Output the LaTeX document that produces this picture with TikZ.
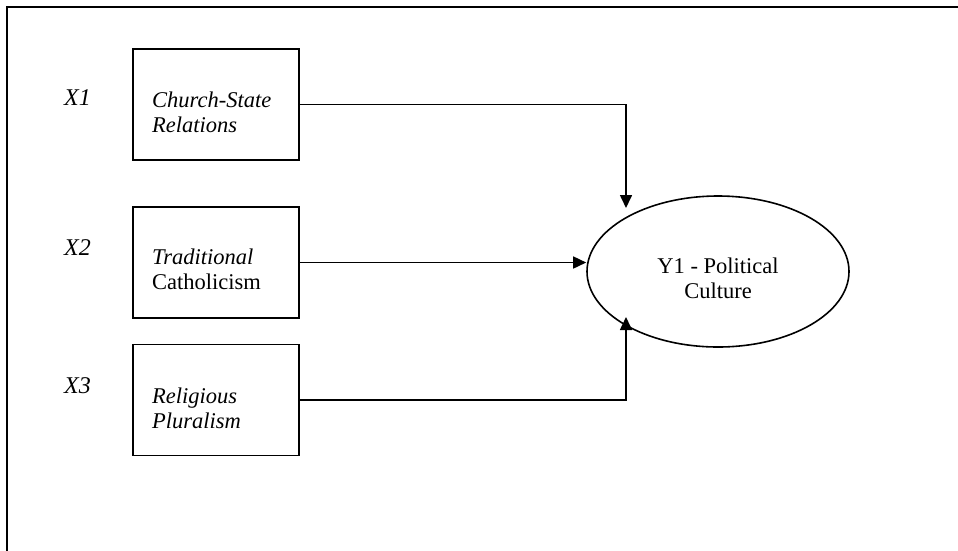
\documentclass[tikz,border=0pt]{standalone}
\usepackage{fontspec}
\setmainfont{Liberation Serif}
\usetikzlibrary{arrows.meta,shapes.geometric}
\begin{document}
\begin{tikzpicture}[x=1pt,y=-1pt,
  box/.style={draw,line width=1.7pt,minimum width=166pt,minimum height=111pt,inner sep=0pt},
  lbl/.style={font=\fontsize{22.5}{25}\selectfont,align=left,anchor=base west,inner sep=0pt},
  xlbl/.style={font=\fontsize{24}{26}\selectfont\itshape,anchor=base west,inner sep=0pt},
  conn/.style={line width=1.6pt,-{Triangle[length=13pt,width=12pt]}}]
\useasboundingbox (0,0) rectangle (958,550);
\draw[line width=2.2pt] (7,551) coordinate (fl) -- (7,7) coordinate (ftl) -- (959,7) coordinate (fr);
\node[box] (b1) at (216,104.5) {};
\node[box] (b2) at (216,262.5) {};
\node[box] (b3) at (216,400) {};
\node[lbl] (t1) at (152,132) {\itshape Church-State\\\itshape Relations};
\node[lbl] (t2) at (152,289) {\itshape Traditional\\Catholicism};
\node[lbl] (t3) at (152,428) {\itshape Religious\\\itshape Pluralism};
\node[xlbl] (x1) at (64,105) {X1};
\node[xlbl] (x2) at (64,255) {X2};
\node[xlbl] (x3) at (64,393) {X3};
\node[draw,line width=1.6pt,ellipse,minimum width=262pt,minimum height=151pt,inner sep=0pt] (y) at (718,271.5) {};
\node[font=\fontsize{22.5}{25}\selectfont,align=center,anchor=base] (yt) at (718,298) {Y1 - Political\\Culture};
\draw[conn] (b1.east) -| (626,208) coordinate (a1);
\draw[conn] (b2.east) -- (b2.east -| y.west);
\draw[conn] (b3.east) -| (626,317) coordinate (a3);
\end{tikzpicture}
\end{document}
